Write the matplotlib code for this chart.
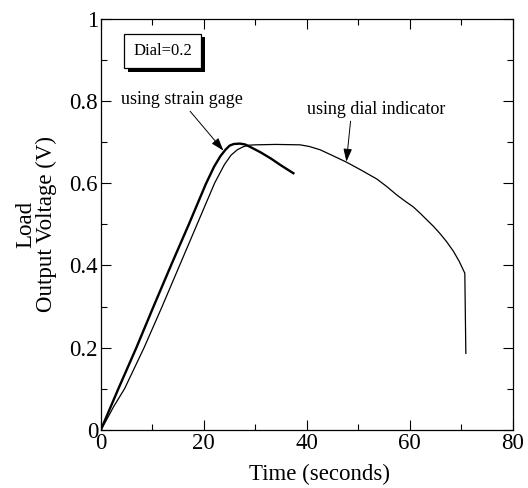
import matplotlib
matplotlib.use("Agg")
import matplotlib.pyplot as plt
import matplotlib.patheffects as pe
from matplotlib.ticker import MultipleLocator

# Data
strain_t = [0, 3.4, 6.9, 10.4, 13.8, 17.1, 20.4, 22.0, 23.2, 24.2, 25.0, 25.8, 27.0, 28.0, 29.0,
            31.0, 33.0, 35.0, 37.4]
strain_v = [0, 0.10, 0.20, 0.305, 0.405, 0.50, 0.598, 0.640, 0.665, 0.681, 0.691, 0.695, 0.696,
            0.694, 0.688, 0.675, 0.660, 0.643, 0.624]

dial_t = [0, 1.0, 2.5, 4.6, 8.4, 11.9, 15.3, 18.7, 22.1, 24.0, 25.3, 26.5, 27.6, 28.6, 30.0, 34.0,
          38.7, 40.5, 42.6, 45.0, 47.7, 50.5, 53.6, 55.5, 57.5, 59.0, 60.7, 62.0, 63.3, 64.6, 65.9,
          67.2, 68.5, 69.6, 70.7, 70.9]
dial_v = [0, 0.022, 0.057, 0.10, 0.20, 0.30, 0.40, 0.50, 0.60, 0.645, 0.668, 0.681, 0.688, 0.692,
          0.693, 0.694, 0.693, 0.689, 0.681, 0.667, 0.651, 0.632, 0.610, 0.592, 0.571, 0.557, 0.542,
          0.527, 0.511, 0.495, 0.477, 0.457, 0.434, 0.410, 0.381, 0.186]

x_ticks = [0, 20, 40, 60, 80]
y_ticks = [0, 0.2, 0.4, 0.6, 0.8, 1]
y_tick_labels = ["0", "0.2", "0.4", "0.6", "0.8", "1"]

plt.rcParams['font.family'] = ['Liberation Serif', 'DejaVu Serif']

fig = plt.figure(figsize=(5.28, 4.88), dpi=100)
ax = fig.add_axes([0.191, 0.119, 0.780, 0.843])

ax.plot(strain_t, strain_v, color='black', lw=1.7, solid_joinstyle='round')
ax.plot(dial_t, dial_v, color='black', lw=0.9, solid_joinstyle='round')

ax.set_xlim(0, 80)
ax.set_ylim(0, 1)
ax.set_xticks(x_ticks)
ax.set_yticks(y_ticks)
ax.set_yticklabels(y_tick_labels)
ax.xaxis.set_minor_locator(MultipleLocator(10))
ax.yaxis.set_minor_locator(MultipleLocator(0.1))
ax.tick_params(which='both', direction='in', top=True, right=True, labelsize=16.5, pad=2)
ax.tick_params(which='major', length=7, width=0.8)
ax.tick_params(which='minor', length=4, width=0.8)
for s in ax.spines.values():
    s.set_linewidth(0.9)

ax.set_xlabel("Time (seconds)", fontsize=16.5)
ax.xaxis.set_label_coords(0.532, -0.108)
ax.xaxis.label.set_va('center')
ax.set_ylabel("Load\nOutput Voltage (V)", fontsize=16.5, labelpad=9, linespacing=0.95)

t = ax.text(12.0, 0.921, "Dial=0.2", fontsize=12, ha='center', va='center',
            bbox=dict(boxstyle='square,pad=0.55', fc='white', ec='black', lw=0.9))
t.get_bbox_patch().set_path_effects([pe.SimplePatchShadow(offset=(2.5, -2.5), shadow_rgbFace='black', alpha=1.0),
                                     pe.Normal()])

arrow = dict(arrowstyle='-|>,head_length=0.6,head_width=0.2', color='black', lw=0.7, shrinkA=0, shrinkB=0)
ax.annotate("using strain gage", xy=(23.8, 0.679), xytext=(15.7, 0.802), fontsize=13,
            ha='center', va='center', arrowprops=dict(arrow, relpos=(0.55, 0.0)))
ax.annotate("using dial indicator", xy=(47.7, 0.652), xytext=(53.4, 0.778), fontsize=13,
            ha='center', va='center', arrowprops=dict(arrow, relpos=(0.32, 0.0)))

fig.savefig("out.png", dpi=100)
